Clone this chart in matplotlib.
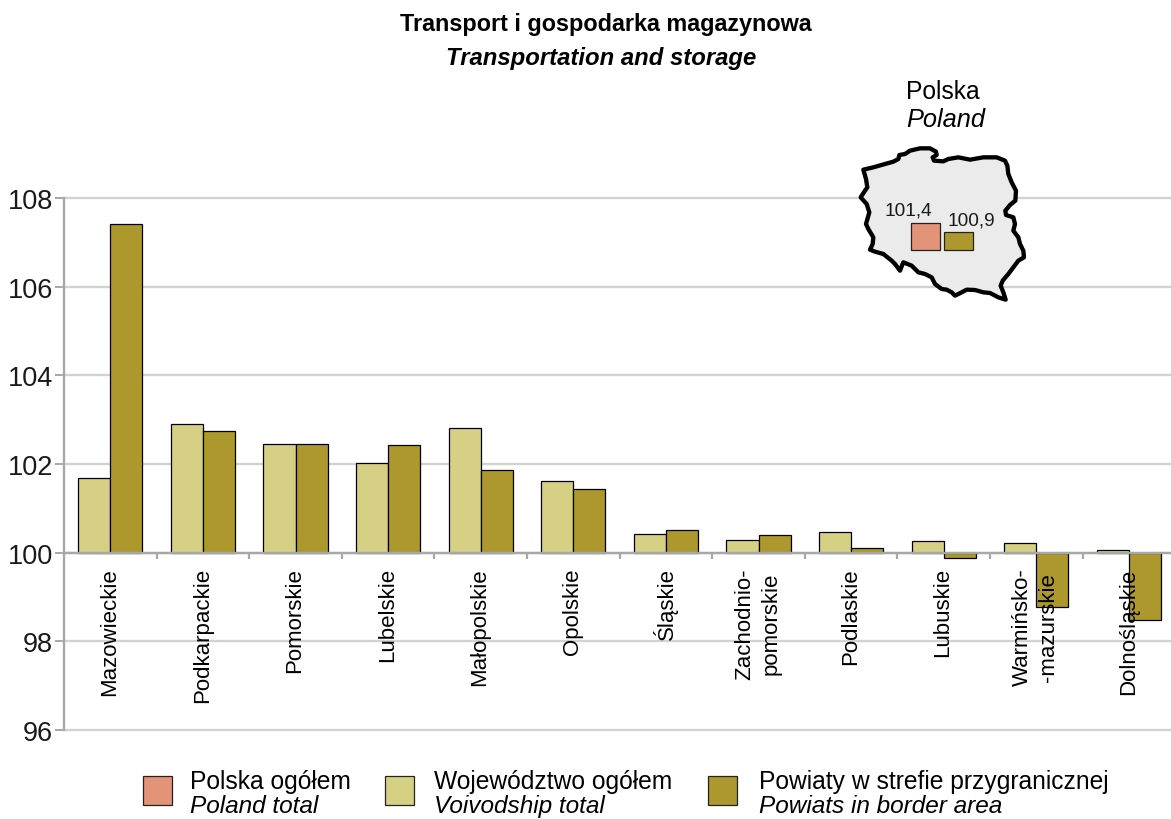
import numpy as np
import matplotlib
matplotlib.use("Agg")
import matplotlib.pyplot as plt
from matplotlib.patches import Polygon, Rectangle

plt.rcParams["font.family"] = ["Liberation Sans", "DejaVu Sans"]

regions = ["Mazowieckie", "Podkarpackie", "Pomorskie", "Lubelskie", "Małopolskie", "Opolskie",
           "Śląskie", "Zachodnio-\npomorskie", "Podlaskie", "Lubuskie", "Warmińsko-\n-mazurskie", "Dolnośląskie"]
voivodship = [101.69, 102.90, 102.44, 102.02, 102.82, 101.61, 100.42, 100.29, 100.47, 100.26, 100.21, 100.05]
border = [107.41, 102.74, 102.44, 102.43, 101.86, 101.44, 100.52, 100.39, 100.11, 99.87, 98.78, 98.48]
yticks = [96, 98, 100, 102, 104, 106, 108]
poland_total = 101.4
poland_border = 100.9

col_total = "#e39378"
col_voi = "#d6d084"
col_border = "#ac982c"
col_grid = "#d0d4d1"
col_axis = "#a6a8a6"

W, H = 1171, 820
fig = plt.figure(figsize=(W / 100, H / 100), dpi=100)

# main axes, placed in pixels
left, top, bottom = 64, 199, 731
ax = fig.add_axes([left / W, 1 - bottom / H, (W - left) / W, (bottom - top) / H])
ax.set_ylim(96, 108)
ax.set_xlim(0, (W - left) / 92.6)

x = np.arange(len(regions)) + 0.5
bw = 0.346
ax.bar(x - bw / 2, np.array(voivodship) - 100, bw, bottom=100, color=col_voi, edgecolor="black", linewidth=0.9, zorder=3)
ax.bar(x + bw / 2, np.array(border) - 100, bw, bottom=100, color=col_border, edgecolor="black", linewidth=0.9, zorder=3)

for t in yticks:
    ax.axhline(t, color=col_grid, linewidth=1.7, zorder=1, clip_on=False)
ax.axhline(100, color=col_axis, linewidth=1.7, zorder=4)
for s in ["top", "right", "bottom"]:
    ax.spines[s].set_visible(False)
ax.spines["left"].set_color(col_axis)
ax.spines["left"].set_linewidth(1.7)
ax.set_yticks(yticks)
ax.tick_params(axis="y", length=6.5, width=1.4, color=col_axis, labelsize=19.5, pad=1.5, labelcolor="#1a1a1a")
ax.set_xticks([])
ax.set_axisbelow(True)

# ticks between the categories sit on the 100 line
for i in range(1, len(regions)):
    ax.plot([i, i], [100, 99.86], color=col_axis, linewidth=1.6, zorder=2, solid_capstyle="butt")

for xi, name in zip(x, regions):
    ax.annotate(name, (xi, 100), xytext=(-0.5, -10.5), textcoords="offset points", rotation=90,
                ha="center", va="top", multialignment="center", fontsize=16, linespacing=1.3,
                color="black", zorder=5)

# overlay in pixel coordinates
ov = fig.add_axes([0, 0, 1, 1], facecolor="none")
ov.set_xlim(0, W)
ov.set_ylim(H, 0)
ov.axis("off")

ov.text(606, 24.5, "Transport i gospodarka magazynowa", ha="center", va="center", fontsize=16.8, fontweight="bold")
ov.text(601, 59, "Transportation and storage", ha="center", va="center", fontsize=17.2, fontweight="bold", style="italic")
ov.text(906, 92, "Polska", ha="left", va="center", fontsize=17.7)
ov.text(906, 120, "Poland", ha="left", va="center", fontsize=18.3, style="italic")

outline_zoom = [(100, 122), (130, 115), (165, 105), (190, 98), (205, 90), (208, 78), (225, 75), (240, 65), (270, 58),
                (300, 58), (318, 68), (320, 78), (308, 85), (312, 95), (340, 97), (355, 90), (385, 85), (420, 92),
                (460, 85), (500, 85), (525, 95), (532, 110), (535, 135), (545, 160), (558, 185), (556, 215), (540, 228),
                (526, 245), (528, 258), (550, 265), (555, 285), (550, 305), (565, 325), (570, 345), (580, 365),
                (582, 385), (565, 395), (550, 415), (535, 435), (518, 455), (512, 470), (520, 490), (527, 512),
                (505, 505), (480, 492), (460, 490), (435, 483), (410, 482), (395, 490), (375, 500), (365, 490),
                (350, 482), (335, 480), (315, 465), (305, 445), (285, 435), (265, 430), (245, 410), (220, 400),
                (210, 425), (195, 405), (185, 395), (160, 375), (135, 368), (120, 362), (128, 345), (130, 325),
                (115, 300), (108, 285), (118, 250), (110, 225), (92, 205), (105, 185), (112, 175), (108, 150)]
outline = [(830 + a / 3, 130 + b / 3) for a, b in outline_zoom]
ov.add_patch(Polygon(outline, closed=True, facecolor="#ebebeb", edgecolor="black", linewidth=3.1, joinstyle="round", zorder=2))

# small bars on the map
inset = fig.add_axes([911 / W, 1 - 251 / H, 62 / W, 30 / H], facecolor="none")
inset.set_xlim(0, 62)
inset.set_ylim(100, 100 + 30 / 19.5)
inset.axis("off")
inset.bar([14.5, 47.5], [poland_total - 100, poland_border - 100], 29, bottom=100,
          color=[col_total, col_border], edgecolor="#222222", linewidth=0.9, clip_on=False)
ov.text(908, 211, "101,4", ha="center", va="center", fontsize=13.7, color="#1a1a1a", zorder=5)
ov.text(971, 221, "100,9", ha="center", va="center", fontsize=13.7, color="#1a1a1a", zorder=5)

# legend
legend_items = [("Polska ogółem", "Poland total", col_total, 143, 190),
                ("Województwo ogółem", "Voivodship total", col_voi, 385, 434),
                ("Powiaty w strefie przygranicznej", "Powiats in border area", col_border, 708, 759)]
for pl, en, c, bx, tx in legend_items:
    ov.add_patch(Rectangle((bx, 777), 29, 29, facecolor=c, edgecolor="#222222", linewidth=0.9))
    ov.text(tx, 782, pl, ha="left", va="center", fontsize=17.7)
    ov.text(tx, 807, en, ha="left", va="center", fontsize=17.6, style="italic")

fig.savefig("out.png", dpi=100)
